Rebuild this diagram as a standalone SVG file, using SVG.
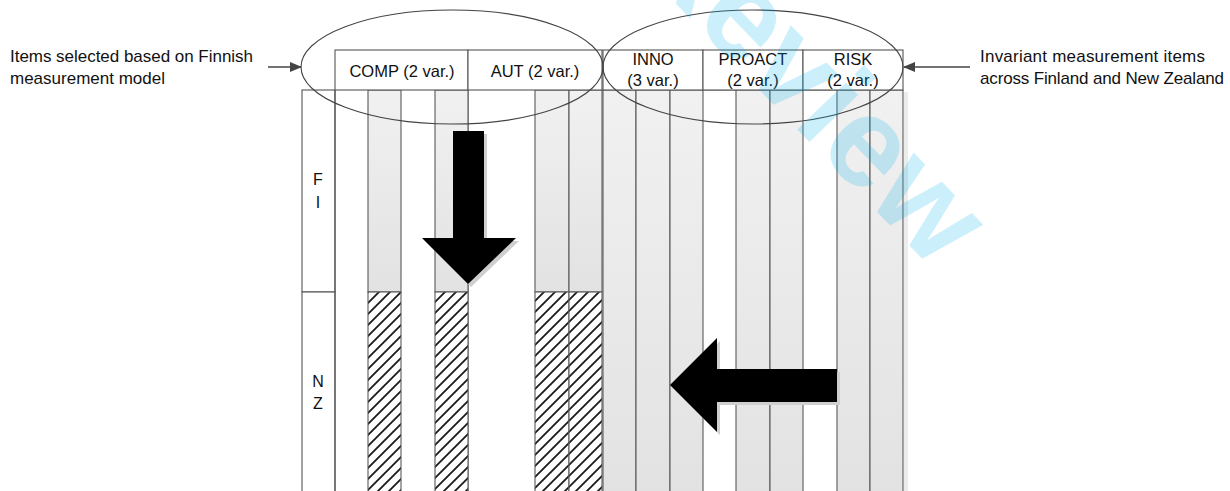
<svg xmlns="http://www.w3.org/2000/svg" width="1230" height="491" viewBox="0 0 1230 491">
<style>
  .t{font-family:"Liberation Sans",Arial,sans-serif;fill:#111}
  .side{font-size:17px}
  .hdr{font-size:16.5px;text-anchor:middle}
  .lbl{font-size:16px;text-anchor:middle}
  .box{fill:#fff;stroke:#555;stroke-width:1.1}
  .grey{fill:url(#g);stroke:#5a5a5a;stroke-width:1.1}
  .hatch{fill:url(#h);stroke:#5a5a5a;stroke-width:1.1}
  .ell{fill:none;stroke:#444;stroke-width:1.1}
  .blk{fill:#000}
  .shd{fill:#cfcfcf}
  .con{stroke:#444;stroke-width:1.6;fill:none}
</style>
<defs>
  <linearGradient id="g" x1="0" y1="0" x2="0" y2="1">
    <stop offset="0" stop-color="#f1f1f1"/>
    <stop offset="1" stop-color="#e2e2e2"/>
  </linearGradient>
  <pattern id="h" patternUnits="userSpaceOnUse" width="11" height="11">
    <rect width="11" height="11" fill="#fff"/>
    <path d="M-2,2 L2,-2 M0,11 L11,0 M9,13 L13,9" stroke="#1a1a1a" stroke-width="1.8"/>
  </pattern>
  <marker id="ah" viewBox="0 0 12 10" refX="11" refY="5" markerWidth="12" markerHeight="10" markerUnits="userSpaceOnUse" orient="auto">
    <path d="M0,0 L12,5 L0,10 Z" fill="#444"/>
  </marker>
</defs>
<rect width="1230" height="491" fill="#fff"/>

<!-- side labels -->
<g id="note-left">
  <text class="t side" x="10" y="62" textLength="243" lengthAdjust="spacing">Items selected based on Finnish</text>
  <text class="t side" x="10" y="84">measurement model</text>
</g>
<g id="note-right">
  <text class="t side" x="980" y="62" textLength="225" lengthAdjust="spacing">Invariant measurement items</text>
  <text class="t side" x="980" y="84" textLength="244" lengthAdjust="spacing">across Finland and New Zealand</text>
</g>

<!-- row labels -->
<g id="row-FI">
  <rect class="box" x="302" y="90" width="33" height="202"/>
  <text class="t lbl" x="318" y="185">F</text>
  <text class="t lbl" x="318" y="208">I</text>
</g>
<g id="row-NZ">
  <rect class="box" x="302" y="292" width="33" height="205"/>
  <text class="t lbl" x="318" y="387">N</text>
  <text class="t lbl" x="318" y="409">Z</text>
</g>

<!-- columns -->
<g id="columns">
  <line x1="335" y1="90" x2="335" y2="491" stroke="#555" stroke-width="1.1"/>
  <line x1="468" y1="90" x2="468" y2="491" stroke="#555" stroke-width="1.1"/>
  <rect class="grey" x="368" y="90" width="33" height="202"/>
  <rect class="hatch" x="368" y="292" width="33" height="205"/>
  <rect class="grey" x="435" y="90" width="33" height="202"/>
  <rect class="hatch" x="435" y="292" width="33" height="205"/>
  <rect class="grey" x="535" y="90" width="34" height="202"/>
  <rect class="hatch" x="535" y="292" width="34" height="205"/>
  <rect class="grey" x="569" y="90" width="33" height="202"/>
  <rect class="hatch" x="569" y="292" width="33" height="205"/>
  <rect class="grey" x="603" y="90" width="33" height="407"/>
  <rect class="grey" x="636" y="90" width="34" height="407"/>
  <rect class="grey" x="670" y="90" width="33" height="407"/>
  <line x1="703" y1="90" x2="736" y2="90" stroke="#555" stroke-width="1.1"/>
  <rect class="grey" x="736" y="90" width="34" height="407"/>
  <rect class="grey" x="770" y="90" width="33" height="407"/>
  <line x1="803" y1="90" x2="837" y2="90" stroke="#555" stroke-width="1.1"/>
  <rect class="grey" x="837" y="90" width="33" height="407"/>
  <rect class="grey" x="870" y="90" width="33" height="407"/>
  <rect x="904" y="92" width="4" height="399" fill="#ececec"/>
</g>

<!-- headers -->
<g id="header-COMP">
  <rect class="box" x="335" y="50" width="133" height="40"/>
  <text class="t hdr" x="402" y="77">COMP (2 var.)</text>
</g>
<g id="header-AUT">
  <rect class="box" x="468" y="50" width="134" height="40"/>
  <text class="t hdr" x="535" y="77">AUT (2 var.)</text>
</g>
<g id="header-INNO">
  <rect class="box" x="603" y="50" width="100" height="40"/>
  <text class="t hdr" x="653" y="65">INNO</text>
  <text class="t hdr" x="653" y="86">(3 var.)</text>
</g>
<g id="header-PROACT">
  <rect class="box" x="703" y="50" width="100" height="40" stroke-width="1.6" stroke="#444"/>
  <text class="t hdr" x="753" y="65">PROACT</text>
  <text class="t hdr" x="753" y="86">(2 var.)</text>
</g>
<g id="header-RISK">
  <rect class="box" x="803" y="50" width="100" height="40"/>
  <text class="t hdr" x="853" y="65">RISK</text>
  <text class="t hdr" x="853" y="86">(2 var.)</text>
</g>

<!-- groupings -->
<g id="ellipse-left"><ellipse class="ell" cx="452" cy="67" rx="151" ry="57"/></g>
<g id="ellipse-right"><ellipse class="ell" cx="753" cy="67" rx="150" ry="57"/></g>

<!-- connectors -->
<g id="connectors">
  <line class="con" x1="268" y1="67" x2="301" y2="67" marker-end="url(#ah)"/>
  <line class="con" x1="970" y1="67" x2="904" y2="67" marker-end="url(#ah)"/>
  <polygon class="shd" points="456,134 487,134 487,241 519,241 471,287 425,241 456,241"/>
  <polygon class="blk" points="453,131 484,131 484,238 516,238 468,284 422,238 453,238"/>
  <polygon class="shd" points="840,372 720,372 720,341 673,388 720,435 720,405 840,405"/>
  <polygon class="blk" points="837,369 717,369 717,338 670,385 717,432 717,402 837,402"/>
</g>

<!-- watermark -->
<text transform="translate(628,-46) rotate(46)" font-family="'Liberation Sans',Arial,sans-serif" font-weight="bold" font-size="128" fill="#00aeef" fill-opacity="0.2">Review</text>
</svg>
